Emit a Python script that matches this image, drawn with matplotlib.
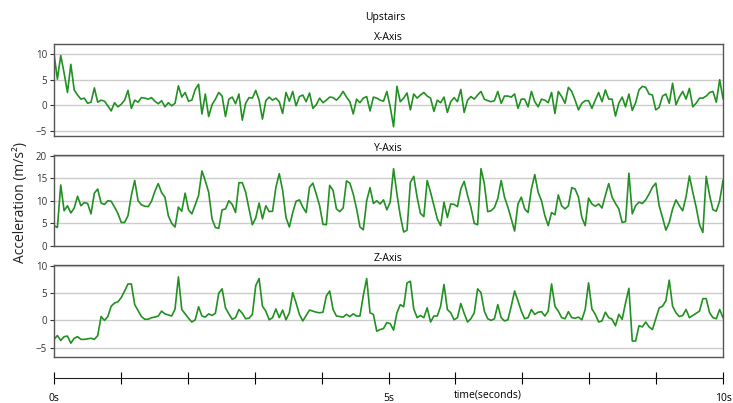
import matplotlib
matplotlib.use("Agg")
import matplotlib.pyplot as plt
import numpy as np

plt.rcParams['font.family'] = ['Open Sans', 'DejaVu Sans']

# Accelerometer readings (20 Hz, 10 s window) -------------------------
acc_x = [10.0, 5.1, 9.7, 6.3, 2.5, 8.0, 3.0, 2.0, 1.2, 1.4,
         0.4, 0.6, 3.4, 0.6, 1.0, 0.8, -0.1, -1.1, 0.5, -0.3,
         0.2, 1.0, 2.9, -0.6, 1.0, 0.6, 1.5, 1.4, 1.2, 1.5,
         0.8, 0.3, 0.9, -0.3, 0.5, -0.1, 0.4, 3.8, 1.6, 2.5,
         0.8, 1.0, 3.1, 4.1, -1.7, 2.2, -2.2, 0.1, 1.2, 2.5,
         1.8, -2.2, 1.2, 1.6, 0.3, 2.2, -2.9, 0.4, 1.5, 1.4,
         2.9, 1.0, -2.7, 0.9, 1.6, 1.0, 1.4, 0.7, -1.6, 2.5,
         0.8, 2.7, -0.1, 1.7, 2.0, 0.7, 2.4, -0.6, 0.1, 1.4,
         0.5, 1.0, 1.6, 1.5, 1.0, 1.7, 2.7, 1.6, 0.7, -1.7,
         1.2, 0.5, 1.4, 1.7, -1.1, 1.6, 1.4, 1.0, 0.8, 2.7,
         -0.3, -4.2, 3.7, 0.7, 1.4, 2.4, -0.9, 2.2, 1.4, 2.0,
         2.5, 1.8, 1.4, -1.2, 1.0, 0.5, 1.6, -1.4, 0.7, 1.5,
         0.7, 3.1, -1.4, 1.0, 1.7, 1.2, 2.0, 2.7, 1.2, 0.9,
         0.7, 0.9, 2.7, 0.4, 1.8, 1.8, 1.6, 2.2, -0.6, 1.2,
         1.2, -0.3, 2.7, 0.7, -0.3, 1.2, 1.0, 0.5, 2.5, -1.6,
         2.7, 1.7, 0.4, 3.5, 2.7, 1.0, -0.9, 0.4, 0.9, 0.9,
         -0.6, 1.0, 2.5, 0.7, 3.0, 1.2, 1.2, -2.1, 0.4, 1.6,
         -0.3, 2.2, -1.0, 0.5, 3.0, 3.7, 3.5, 2.2, 2.0, -0.9,
         -0.4, 1.8, 2.2, 0.4, 4.3, 0.1, 1.6, 2.7, 1.2, 3.3,
         -0.3, 0.4, 1.4, 1.4, 1.8, 2.5, 2.7, 0.6, 5.0, 1.3]

acc_y = [4.5, 4.1, 13.5, 7.8, 8.9, 7.3, 8.4, 11.0, 8.9, 9.6,
         9.4, 7.1, 11.7, 12.6, 9.5, 9.2, 10.0, 9.9, 8.6, 7.2,
         5.2, 5.2, 6.7, 11.2, 14.5, 10.0, 9.1, 8.8, 8.7, 9.9,
         12.1, 13.8, 11.8, 10.8, 6.7, 5.0, 4.2, 8.6, 7.7, 11.7,
         8.0, 7.1, 9.1, 11.2, 16.6, 14.4, 11.9, 6.0, 4.1, 3.9,
         8.0, 8.2, 10.0, 9.2, 7.4, 14.0, 14.0, 11.9, 8.2, 4.7,
         6.2, 9.5, 6.0, 8.9, 7.6, 7.7, 13.0, 16.0, 12.3, 6.3,
         4.2, 7.4, 9.9, 10.2, 8.6, 7.4, 13.0, 13.9, 11.5, 8.9,
         4.8, 4.7, 13.4, 12.3, 8.2, 7.6, 8.4, 14.4, 13.9, 11.5,
         8.2, 4.2, 3.6, 10.0, 12.9, 9.4, 10.0, 9.3, 10.2, 8.0,
         9.7, 17.1, 11.5, 6.7, 3.1, 3.5, 14.1, 15.4, 10.8, 7.2,
         6.5, 14.5, 11.9, 8.9, 6.0, 4.5, 9.7, 6.3, 9.3, 9.2,
         8.7, 12.6, 14.3, 11.2, 8.6, 5.0, 4.7, 17.1, 13.8, 7.6,
         7.8, 8.5, 10.5, 14.5, 10.8, 8.6, 6.0, 3.3, 9.3, 10.8,
         8.2, 7.4, 12.6, 15.8, 11.9, 10.0, 6.7, 4.5, 7.4, 6.9,
         11.3, 8.9, 8.2, 8.9, 12.9, 12.6, 10.8, 6.3, 4.5, 10.6,
         9.3, 8.8, 9.3, 8.4, 11.2, 13.8, 10.8, 9.4, 8.2, 5.2,
         5.4, 16.1, 7.1, 8.9, 9.7, 9.4, 10.2, 11.5, 13.0, 13.9,
         8.9, 6.3, 3.5, 5.2, 8.2, 10.2, 8.9, 7.8, 10.9, 15.5,
         11.9, 8.6, 4.7, 3.0, 15.4, 11.2, 8.0, 7.7, 10.0, 14.5]

acc_z = [-3.5, -2.8, -3.7, -3.0, -2.9, -4.2, -3.3, -3.0, -3.5, -3.5,
         -3.4, -3.3, -3.5, -2.8, 0.7, 0.0, 0.7, 2.6, 3.2, 3.4,
         4.2, 5.4, 6.7, 6.7, 2.9, 1.8, 0.7, 0.2, 0.2, 0.5,
         0.6, 0.8, 1.7, 1.2, 1.0, 0.8, 2.1, 8.0, 2.0, 1.2,
         0.4, -0.3, 0.1, 2.5, 0.8, 0.6, 1.2, 0.9, 1.3, 5.0,
         5.8, 2.3, 1.2, 0.2, 0.5, 2.0, 1.3, 0.3, 0.4, 1.1,
         6.4, 7.7, 2.6, 1.7, 0.1, 0.5, 2.1, 0.5, 1.9, 0.1,
         1.4, 5.1, 3.2, 1.1, -0.1, 0.9, 1.9, 1.7, 1.5, 1.4,
         1.5, 4.5, 5.4, 2.0, 0.8, 0.7, 0.6, 1.1, 0.7, 1.2,
         0.8, 0.8, 4.6, 7.7, 1.4, 1.1, -2.0, -1.7, -1.5, -0.4,
         -0.6, -1.8, 1.4, 2.9, 2.5, 6.9, 7.2, 2.1, 0.5, 0.9,
         0.5, 2.3, -0.3, 0.8, 0.8, 2.6, 6.6, 2.0, 1.4, 0.1,
         0.5, 3.1, 1.3, -0.3, 0.3, 1.4, 5.8, 5.1, 1.7, 0.3,
         0.0, 0.3, 2.9, 0.5, -0.1, 0.1, 2.6, 5.4, 3.6, 1.7,
         0.3, 0.5, 2.0, 1.1, 1.5, 1.6, 0.8, 1.7, 6.7, 2.6,
         1.7, 0.5, 0.3, 1.6, 0.5, 0.4, 0.6, 0.1, 2.0, 6.9,
         2.1, 1.1, -0.3, -0.1, 1.5, 0.5, 0.2, -1.0, 1.1, 0.2,
         3.2, 5.9, -3.8, -3.8, -1.0, -1.2, -0.3, -1.2, -1.7, 0.3,
         2.3, 2.6, 3.6, 7.4, 2.6, 1.4, 0.7, 0.9, 2.0, 0.5,
         0.9, 1.3, 1.7, 4.0, 4.0, 1.4, 0.5, 0.3, 2.0, 0.5]

panel_titles = ['X-Axis', 'Y-Axis', 'Z-Axis']
panel_ylims  = [(-6.0, 11.9), (0, 20.2), (-6.8, 10.25)]
panel_yticks = [[-5, 0, 5, 10], [0, 5, 10, 15, 20], [-5, 0, 5, 10]]

time_ticks  = np.arange(0, 11)
time_labels = ['0s', '', '', '', '', '5s', '', '', '', '', '10s']

# Figure ------------------------------------------------------------------
fig = plt.figure(figsize=(7.33, 4.03), dpi=100)
boxes = [[0.0737, 0.6625, 0.9127, 0.2275],
         [0.0737, 0.3896, 0.9127, 0.2266],
         [0.0737, 0.1134, 0.9127, 0.2298]]

for data, title, ylim, yt, box in zip([acc_x, acc_y, acc_z], panel_titles,
                                      panel_ylims, panel_yticks, boxes):
    ax = fig.add_axes(box)
    idx = np.arange(len(data))
    ax.plot(idx, data, color='#229022', linewidth=1.2)
    ax.set_xlim(0, len(data) - 1)
    ax.set_ylim(*ylim)
    ax.set_yticks(yt)
    ax.set_xticks([])
    ax.set_axisbelow(True)
    ax.yaxis.grid(color='#cccccc', linewidth=1.0)
    ax.tick_params(axis='y', labelsize=7, colors='#333333', length=3, width=0.8, pad=2)
    for sp in ax.spines.values():
        sp.set_color('#555555')
        sp.set_linewidth(1.0)
    ax.set_title(title, fontsize=7.5, pad=3)

fig.text(0.525, 0.957, 'Upstairs', fontsize=7.5, ha='center', va='center')
fig.text(0.028, 0.497, 'Acceleration (m/s²)', fontsize=10, rotation=90,
         ha='center', va='center', color='#222222')

# Time axis under the panels ------------------------------------------------
tax = fig.add_axes([0.0737, 0.062, 0.9127, 0.001])
tax.set_xlim(0, 10)
tax.set_yticks([])
for s in ['top', 'left', 'right']:
    tax.spines[s].set_visible(False)
tax.spines['bottom'].set_color('#222222')
tax.set_xticks(time_ticks)
tax.set_xticklabels(time_labels)
tax.tick_params(axis='x', direction='inout', length=8, width=0.8, labelsize=7.5, pad=7)
tax.patch.set_alpha(0)
fig.text(0.666, 0.02, 'time(seconds)', fontsize=7.5, ha='center', va='center')

fig.savefig('out.png', dpi=100)
